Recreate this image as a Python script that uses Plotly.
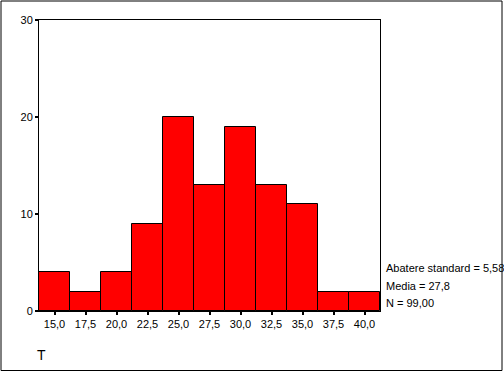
import plotly.graph_objects as go

bin_centers = [15.0, 17.5, 20.0, 22.5, 25.0, 27.5, 30.0, 32.5, 35.0, 37.5, 40.0]
tick_labels = ["15,0", "17,5", "20,0", "22,5", "25,0", "27,5", "30,0", "32,5", "35,0", "37,5", "40,0"]
counts = [4, 2, 4, 9, 20, 13, 19, 13, 11, 2, 2]
y_ticks = [0, 10, 20, 30]
stats_lines = ["Abatere standard = 5,58", "Media = 27,8", "N = 99,00"]
axis_title = "T"

FONT = "Liberation Sans, Arial, sans-serif"

fig = go.Figure()
fig.add_trace(go.Bar(
    x=bin_centers, y=counts, width=2.5,
    marker=dict(color="#FF0000", line=dict(color="black", width=1)),
    showlegend=False, hoverinfo="x+y",
))

L, R, T, B = 39, 124, 20, 62
W, H = 504, 373
pw, ph = W - L - R, H - T - B

def px(x):
    return (x - L) / pw

def py(y):
    return (H - B - y) / ph

fig.update_layout(
    width=W, height=H,
    margin=dict(l=L, r=R, t=T, b=B, pad=0),
    paper_bgcolor="white", plot_bgcolor="white",
    font=dict(family=FONT, size=11, color="black"),
    bargap=0,
    xaxis=dict(
        range=[13.75, 41.25], tickvals=bin_centers, ticktext=tick_labels,
        showgrid=False, zeroline=False, showline=True, linecolor="black", linewidth=1,
        mirror=True, ticks="outside", ticklen=3, tickwidth=2, tickcolor="black",
        fixedrange=True,
    ),
    yaxis=dict(
        range=[0, 30], tickvals=y_ticks, ticktext=[str(v) for v in y_ticks],
        showgrid=False, zeroline=False, showline=True, linecolor="black", linewidth=1,
        mirror=True, ticks="outside", ticklen=3, tickwidth=2, tickcolor="black",
        fixedrange=True,
    ),
    shapes=[dict(
        type="rect", xref="paper", yref="paper",
        x0=px(1), x1=px(502), y0=py(370.5), y1=py(1),
        line=dict(color="black", width=1), fillcolor="rgba(0,0,0,0)", layer="above",
    )],
)

for i, line in enumerate(stats_lines):
    fig.add_annotation(
        xref="paper", yref="paper", x=px(384), y=py(268 + i * 17.5),
        text=line, showarrow=False, xanchor="left", yanchor="middle",
        font=dict(family=FONT, size=11, color="black"),
    )

fig.add_annotation(
    xref="paper", yref="paper", x=px(41), y=py(355),
    text=axis_title, showarrow=False, xanchor="center", yanchor="middle",
    font=dict(family=FONT, size=14, color="black"),
)

fig.write_html(
    "out.html",
    config={"displayModeBar": False},
    post_script="document.body.style.margin='0';document.body.style.overflow='hidden';",
)
